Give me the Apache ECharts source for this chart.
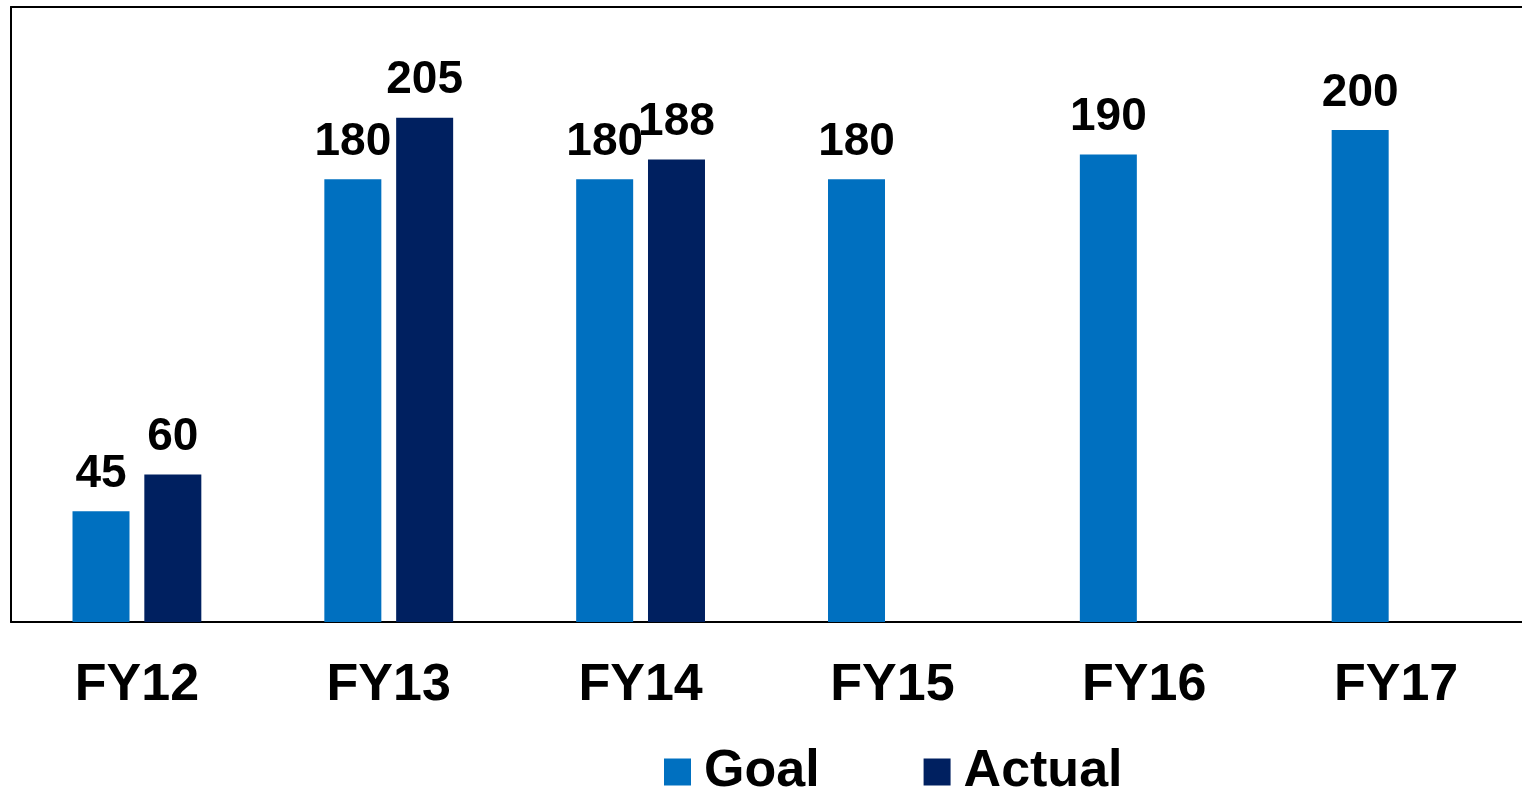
<!DOCTYPE html>
<html><head><meta charset="utf-8">
<script src="https://cdn.jsdelivr.net/npm/echarts@6/dist/echarts.min.js"></script>
<style>html,body{margin:0;padding:0;background:#fff}#c{width:1522px;height:793px}</style>
</head><body><div id="c"></div>
<script>
const categories = ['FY12','FY13','FY14','FY15','FY16','FY17'];
const goalValues = [45,180,180,180,190,200];
const actualValues = [60,205,188,null,null,null];
const seriesNames = ['Goal','Actual'];

const chart = echarts.init(document.getElementById('c'));
const labelStyle = {show:true, position:'top', distance:14, color:'#000', fontFamily:'Liberation Sans, Arial', fontWeight:'bold', fontSize:46};
const blackLine = {show:true, lineStyle:{color:'#000', width:2}};
chart.setOption({
  animation:false,
  grid:{left:11, right:0, top:7, bottom:171, containLabel:false},
  legend:{
    left:659, top:741, itemWidth:27, itemHeight:27, itemGap:104, icon:'rect',
    textStyle:{fontFamily:'Liberation Sans, Arial', fontWeight:'bold', fontSize:52, color:'#000', padding:[0,0,0,8]},
    data:seriesNames
  },
  xAxis:[
    {type:'category', data:categories, position:'bottom',
      axisLine:blackLine, axisTick:{show:false},
      axisLabel:{margin:38, color:'#000', fontFamily:'Liberation Sans, Arial', fontWeight:'bold', fontSize:52}},
    {type:'category', data:categories, position:'top',
      axisLine:blackLine, axisTick:{show:false}, axisLabel:{show:false}}
  ],
  yAxis:{type:'value', min:0, max:250, interval:50, axisLine:blackLine, axisTick:{show:false}, axisLabel:{show:false}, splitLine:{show:false}},
  series:[
    {name:seriesNames[0], type:'bar', data:goalValues, barWidth:57, barGap:'26%', itemStyle:{color:'#0070C0'}, label:labelStyle},
    {name:seriesNames[1], type:'bar', data:actualValues, barWidth:57, itemStyle:{color:'#002060'}, label:labelStyle}
  ]
});
</script></body></html>
